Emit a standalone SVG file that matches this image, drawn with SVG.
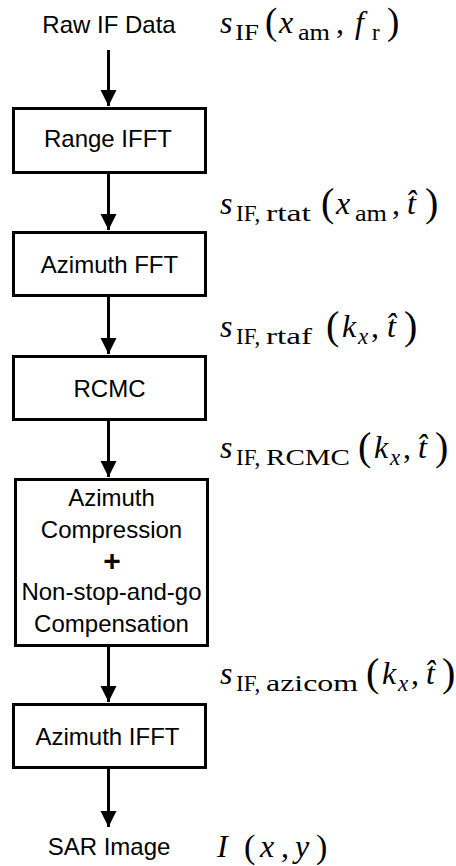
<svg xmlns="http://www.w3.org/2000/svg" width="456" height="866" viewBox="0 0 456 866">
<defs>
<style>
.box{fill:#fff;stroke:#000;stroke-width:3}
.lbl{font-family:"Liberation Sans",Arial,sans-serif;font-size:24px;fill:#000;text-anchor:middle}
.plus{font-family:"Liberation Sans",Arial,sans-serif;font-size:30px;font-weight:bold;fill:#000;text-anchor:middle}
.conn line{stroke:#000;stroke-width:3}
.m{font-family:"Liberation Serif","Times New Roman",serif;font-size:32px;fill:#000}
.i{font-style:italic}
.sub{font-size:23px;font-style:normal}
.si{font-size:23px;font-style:italic}
.p{font-size:40px;font-style:normal}
.p1{font-size:37px;font-style:normal}
.p2{font-size:34px;font-style:normal}
</style>
<marker id="ah" markerUnits="userSpaceOnUse" markerWidth="16" markerHeight="19" refX="16" refY="8" orient="auto" viewBox="0 0 16 16">
<path d="M0,0 L16,8 L0,16 Z" fill="#000"/>
</marker>
</defs>

<g id="connectors" class="conn">
<line x1="108.5" y1="50" x2="108.5" y2="106" marker-end="url(#ah)"/>
<line x1="108.5" y1="174" x2="108.5" y2="230" marker-end="url(#ah)"/>
<line x1="108.5" y1="297" x2="108.5" y2="354" marker-end="url(#ah)"/>
<line x1="108.5" y1="421" x2="108.5" y2="477" marker-end="url(#ah)"/>
<line x1="108.5" y1="647" x2="108.5" y2="702" marker-end="url(#ah)"/>
<line x1="108.5" y1="769" x2="108.5" y2="827" marker-end="url(#ah)"/>
</g>

<g id="raw">
<text class="lbl" x="109" y="33">Raw IF Data</text>
</g>
<g id="range-ifft">
<rect class="box" x="13.5" y="108.5" width="192" height="64"/>
<text class="lbl" x="108" y="147">Range IFFT</text>
</g>
<g id="azimuth-fft">
<rect class="box" x="13.5" y="232.5" width="192" height="63"/>
<text class="lbl" x="109.5" y="273">Azimuth FFT</text>
</g>
<g id="rcmc">
<rect class="box" x="13.5" y="356.5" width="192" height="63"/>
<text class="lbl" x="109.5" y="397">RCMC</text>
</g>
<g id="azimuth-compression">
<rect class="box" x="15.5" y="479.5" width="192" height="166"/>
<text class="lbl" x="111.5" y="506">Azimuth</text>
<text class="lbl" x="111.5" y="538">Compression</text>
<text class="plus" x="112" y="571">+</text>
<text class="lbl" x="111.5" y="600">Non-stop-and-go</text>
<text class="lbl" x="111.5" y="632">Compensation</text>
</g>
<g id="azimuth-ifft">
<rect class="box" x="13.5" y="704.5" width="192" height="63"/>
<text class="lbl" x="107.5" y="745">Azimuth IFFT</text>
</g>
<g id="sar">
<text class="lbl" x="109" y="855">SAR Image</text>
</g>

<g id="math-labels">
<text class="m" y="33"><tspan class="i" x="220">s</tspan><tspan class="sub" x="235" y="40" textLength="24" lengthAdjust="spacingAndGlyphs">IF</tspan><tspan class="p1" x="265" y="34">(</tspan><tspan class="i" x="279" y="33">x</tspan><tspan class="sub" x="298" y="40" textLength="32" lengthAdjust="spacingAndGlyphs">am</tspan><tspan x="336" y="33">,</tspan><tspan class="i" x="355">f</tspan><tspan class="sub" x="372" y="40">r</tspan><tspan class="p1" x="387" y="34">)</tspan></text>

<text class="m" y="214"><tspan class="i" x="220">s</tspan><tspan class="sub" x="236" y="221">IF,</tspan><tspan class="sub" x="266" textLength="45" lengthAdjust="spacingAndGlyphs">rtat</tspan><tspan class="p" x="321" y="216">(</tspan><tspan class="i" x="336" y="214">x</tspan><tspan class="sub" x="355" y="221" textLength="32" lengthAdjust="spacingAndGlyphs">am</tspan><tspan x="392" y="214">,</tspan><tspan class="i" x="407">t̂</tspan><tspan class="p" x="425" y="216">)</tspan></text>

<text class="m" y="337"><tspan class="i" x="220">s</tspan><tspan class="sub" x="236" y="344">IF,</tspan><tspan class="sub" x="266" textLength="46" lengthAdjust="spacingAndGlyphs">rtaf</tspan><tspan class="p" x="326" y="339">(</tspan><tspan class="i" x="342" y="337">k</tspan><tspan class="si" x="358" y="344">x</tspan><tspan x="371" y="337">,</tspan><tspan class="i" x="387">t̂</tspan><tspan class="p" x="404" y="339">)</tspan></text>

<text class="m" y="458"><tspan class="i" x="220">s</tspan><tspan class="sub" x="236" y="465">IF,</tspan><tspan class="sub" x="266" textLength="84" lengthAdjust="spacingAndGlyphs">RCMC</tspan><tspan class="p" x="358" y="460">(</tspan><tspan class="i" x="374" y="458">k</tspan><tspan class="si" x="390" y="465">x</tspan><tspan x="403" y="458">,</tspan><tspan class="i" x="418">t̂</tspan><tspan class="p" x="435" y="460">)</tspan></text>

<text class="m" y="684"><tspan class="i" x="220">s</tspan><tspan class="sub" x="236" y="691">IF,</tspan><tspan class="sub" x="266" textLength="92" lengthAdjust="spacingAndGlyphs">azicom</tspan><tspan class="p" x="366" y="686">(</tspan><tspan class="i" x="382" y="684">k</tspan><tspan class="si" x="398" y="691">x</tspan><tspan x="411" y="684">,</tspan><tspan class="i" x="426">t̂</tspan><tspan class="p" x="442" y="686">)</tspan></text>

<text class="m" y="857"><tspan class="i" x="217">I</tspan><tspan class="p2" x="244" y="858">(</tspan><tspan class="i" x="260" y="857">x</tspan><tspan x="281">,</tspan><tspan class="i" x="295">y</tspan><tspan class="p2" x="316" y="858">)</tspan></text>
</g>
</svg>
